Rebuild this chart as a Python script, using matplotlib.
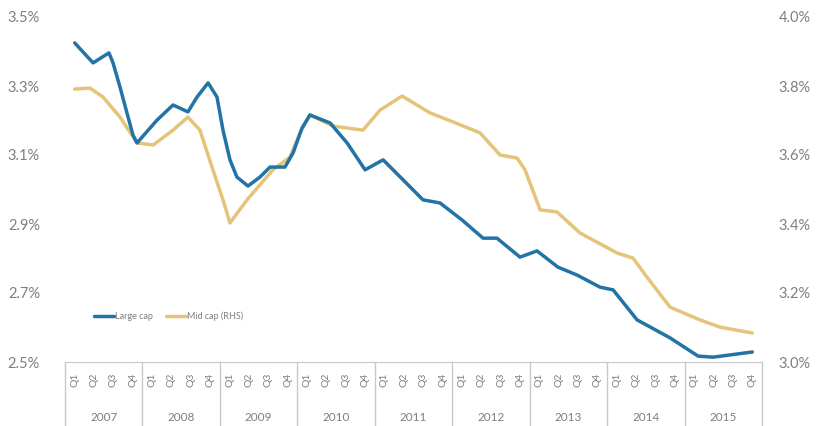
import matplotlib.pyplot as plt
from matplotlib.ticker import FuncFormatter
from matplotlib.transforms import blended_transform_factory

plt.rcParams['font.family'] = ['Lato', 'DejaVu Sans']

years = [2007, 2008, 2009, 2010, 2011, 2012, 2013, 2014, 2015]
quarters = ["Q1", "Q2", "Q3", "Q4"]

# position in quarters since 2007 Q1
large_t = [0.0, 0.95, 1.77, 1.98, 2.34, 2.70, 3.01, 3.22, 4.25, 5.08, 5.85, 6.32,
           6.89, 7.35, 7.66, 8.02, 8.38, 8.95, 9.57, 10.09, 10.86, 11.28, 11.74,
           12.15, 13.19, 14.07, 15.0, 15.93, 16.96, 17.99, 18.87, 20.0, 21.09,
           21.81, 23.0, 23.88, 24.96, 25.95, 27.13, 27.81, 29.05, 30.75, 32.2,
           32.97, 35.0]
large_cap = [3.425, 3.367, 3.396, 3.367, 3.297, 3.222, 3.158, 3.135, 3.201, 3.245,
             3.225, 3.268, 3.309, 3.268, 3.172, 3.086, 3.036, 3.010, 3.036, 3.065,
             3.065, 3.106, 3.178, 3.216, 3.193, 3.135, 3.057, 3.086, 3.028, 2.970,
             2.961, 2.912, 2.859, 2.859, 2.804, 2.822, 2.775, 2.752, 2.717, 2.709,
             2.622, 2.570, 2.517, 2.514, 2.529]

mid_t = [0.0, 0.79, 1.46, 2.34, 3.22, 4.05, 5.08, 5.85, 6.47, 7.14, 7.66, 8.02,
         8.90, 10.24, 11.12, 11.64, 12.15, 13.34, 14.89, 15.77, 16.91, 18.35,
         19.54, 20.94, 21.97, 22.85, 23.26, 24.04, 24.91, 26.1, 28.01, 28.84,
         29.56, 30.75, 32.3, 33.33, 35.0]
mid_cap = [3.791, 3.794, 3.768, 3.710, 3.635, 3.629, 3.672, 3.710, 3.672, 3.557,
           3.470, 3.403, 3.470, 3.557, 3.594, 3.664, 3.716, 3.684, 3.672, 3.730,
           3.771, 3.722, 3.696, 3.664, 3.600, 3.591, 3.557, 3.441, 3.435, 3.374,
           3.316, 3.301, 3.246, 3.159, 3.122, 3.101, 3.084]

blue = "#2273a6"
gold = "#e5c47a"
grey = "#7f7f7f"

fig = plt.figure(figsize=(8.17, 4.26), dpi=100)
ax = fig.add_axes([65 / 817, 1 - 362 / 426, 697 / 817, 345 / 426])
ax2 = ax.twinx()

l1, = ax.plot(large_t, large_cap, color=blue, lw=2.5, solid_capstyle='round',
              solid_joinstyle='round', label="Large cap")
l2, = ax2.plot(mid_t, mid_cap, color=gold, lw=2.5, solid_capstyle='round',
               solid_joinstyle='round', label="Mid cap (RHS)")
ax.set_zorder(ax2.get_zorder() + 1)
ax.patch.set_visible(False)

ax.set_ylim(2.5, 3.5)
ax2.set_ylim(3.0, 4.0)
ax.set_yticks([2.5, 2.7, 2.9, 3.1, 3.3, 3.5])
ax2.set_yticks([3.0, 3.2, 3.4, 3.6, 3.8, 4.0])
ax.yaxis.set_major_formatter(FuncFormatter(lambda v, p: f"{v:.1f}%"))
ax2.yaxis.set_major_formatter(FuncFormatter(lambda v, p: f"{v:.1f}%"))
ax.tick_params(axis='y', length=0, pad=18, labelsize=10.5, labelcolor=grey)
ax2.tick_params(axis='y', length=0, pad=12, labelsize=10.5, labelcolor=grey)

for a in (ax, ax2):
    for s in ("left", "right", "top", "bottom"):
        a.spines[s].set_visible(False)
ax.spines["bottom"].set_visible(True)
ax.spines["bottom"].set_color("#c8c8c8")

# quarter labels, with year separators as long minor ticks
n = len(years) * 4
ax.set_xlim(-0.5, n - 0.5)
ax.set_xticks(range(n))
ax.set_xticklabels(quarters * len(years), rotation=90, fontsize=7.5, color=grey)
ax.set_xticks([y * 4 - 0.5 for y in range(len(years) + 1)], minor=True)
ax.tick_params(axis='x', which='major', length=0, pad=8)
ax.tick_params(axis='x', which='minor', length=46, color="#c8c8c8", width=1)

trans = blended_transform_factory(ax.transData, ax.transAxes)
for k, yr in enumerate(years):
    ax.text(k * 4 + 1.5, -0.16, str(yr), transform=trans, ha='center', va='center',
            fontsize=8.5, color=grey)

ax.legend(handles=[l1, l2], loc='center left', bbox_to_anchor=(0.03, 0.133),
          frameon=False, ncol=2, fontsize=6.5, handlelength=2.2, columnspacing=1.5,
          labelcolor=grey, handletextpad=0.1)

fig.savefig("out.png", dpi=100)
